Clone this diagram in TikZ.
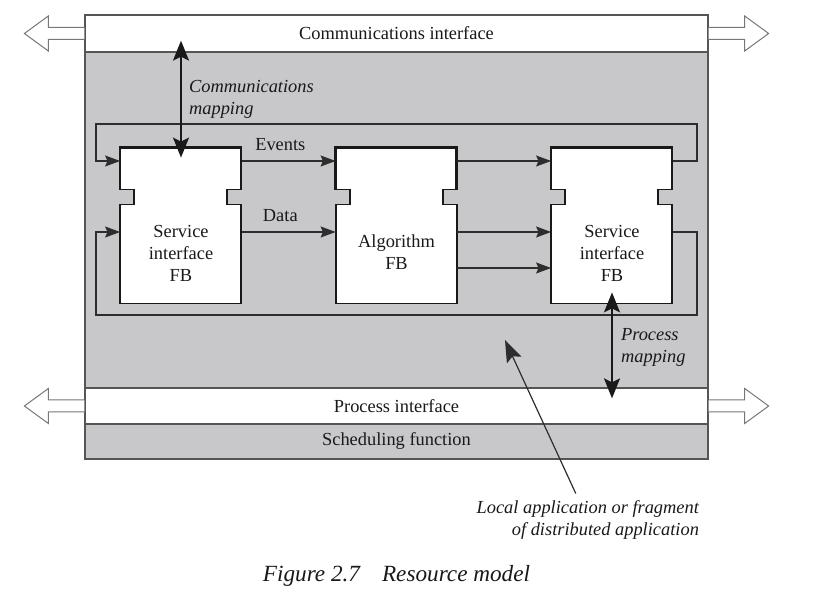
\documentclass[tikz,border=0pt]{standalone}
\usepackage{fontspec}
\setmainfont{Liberation Serif}
\usetikzlibrary{arrows.meta}

\definecolor{resgray}{RGB}{200,200,203}
\definecolor{framecol}{RGB}{85,85,85}
\definecolor{linecol}{RGB}{45,45,45}

\tikzset{
  fbblock/.pic={
    \fill[white] (0,0) -| (121,42) -- (107,42) -- (107,57) -- (121,57) |- (0,156) -- (0,57) -- (14,57) -- (14,42) -- (0,42) -- cycle;
    \draw[fbedge] (0,0) -| (121,42) -- (107,42) -- (107,57) -- (121,57) |- (0,156) -- (0,57) -- (14,57) -- (14,42) -- (0,42) -- cycle;
    \draw[fbhead] (0,42) |- (121,0) -- (121,42);
  },
  bigarrow/.pic={
    \draw[draw=framecol!80,fill=white,line width=0.5pt] (0,-6) -- (-36,-6) -- (-36,-17.5) -- (-60,0) -- (-36,17.5) -- (-36,6) -- (0,6);
  }
}

\begin{document}
\begin{tikzpicture}
        [x=0.5pt,y=-0.5pt,
         every node/.style={font=\fontsize{9.2}{11}\selectfont,text=black!90},
         band/.style={draw=framecol,line width=0.65pt,minimum width=311.5pt,inner sep=0pt},
         fbbox/.style={minimum width=60.5pt,minimum height=78pt,inner sep=0pt},
         fbtext/.style={align=center},
         fbedge/.style={draw=black!90,line width=0.9pt},
         fbhead/.style={draw=black!90,line width=1.3pt},
         flow/.style={draw=linecol,line width=0.6pt,-{Stealth[length=7.5pt,width=5.5pt,inset=1.2pt]}},
         mapping/.style={draw=black!90,line width=1pt,{Stealth[length=10pt,width=8pt,inset=2pt]}-{Stealth[length=10pt,width=8pt,inset=2pt]}},
         pointer/.style={draw=linecol,line width=0.6pt,-{Stealth[length=11pt,width=8pt,inset=2pt]}},
         maplabel/.style={font=\fontsize{9.2}{11}\selectfont\itshape,align=left,anchor=west},
         frame/.style={draw=framecol,line width=0.65pt}]
        \useasboundingbox (0,0) rectangle (819,603);

        % resource
        \node[band,fill=white,minimum height=18.5pt] (comm) at (396.5,33.5) {Communications interface};
        \node[band,fill=resgray,minimum height=168pt] (res) at (396.5,220) {};
        \node[band,fill=white,minimum height=18pt] (proc) at (396.5,406) {Process interface};
        \node[band,fill=resgray,minimum height=17.5pt] (sched) at (396.5,441.5) {Scheduling function};
        \draw[frame] (comm.north west) rectangle (sched.south east);

        \pic at (comm.west) {bigarrow};
        \pic[xscale=-1] at (comm.east) {bigarrow};
        \pic at (proc.west) {bigarrow};
        \pic[xscale=-1] at (proc.east) {bigarrow};

        % function blocks
        \node[fbbox] (svc1) at (181,226) {};
        \node[fbbox] (alg) at (396.5,226) {};
        \node[fbbox] (svc2) at (612,226) {};
        \pic at (svc1.north west) {fbblock};
        \pic at (alg.north west) {fbblock};
        \pic at (svc2.north west) {fbblock};
        \node[fbtext] (svc1-txt) at (181,253) {Service\\interface\\FB};
        \node[fbtext] (alg-txt) at (396.5,252.5) {Algorithm\\FB};
        \node[fbtext] (svc2-txt) at (612,253) {Service\\interface\\FB};

        % event and data rows
        \coordinate (ev) at (0,161);
        \coordinate (dat) at (0,232);
        \coordinate (aux) at (0,268);
        \coordinate (tr) at (697,124);
        \coordinate (tl) at (96,124);
        \coordinate (br) at (697,315);
        \coordinate (bl) at (96,315);

        \draw[flow] (svc1.east |- ev) -- node[pos=.41,above=1.5pt] {Events} (alg.west |- ev);
        \draw[flow] (svc1.east |- dat) -- node[pos=.41,above=1.5pt] {Data} (alg.west |- dat);
        \draw[flow] (alg.east |- ev) -- (svc2.west |- ev);
        \draw[flow] (alg.east |- dat) -- (svc2.west |- dat);
        \draw[flow] (alg.east |- aux) -- (svc2.west |- aux);
        \draw[flow] (svc2.east |- ev) -| (tr) -- (tl) |- (svc1.west |- ev);
        \draw[flow] (svc2.east |- dat) -| (br) -- (bl) |- (svc1.west |- dat);

        % mappings
        \path (comm.south -| svc1.north) ++(0,-12) coordinate (cmtop);
        \path (proc.north -| svc2.south) ++(0,11) coordinate (pmbot);
        \draw[mapping] (cmtop) -- ([yshift=-5pt]svc1.north);
        \draw[mapping] ([yshift=6pt]svc2.south) -- (pmbot);
        \node[maplabel] (cm-lbl) at (182,99) {Communications\\mapping};
        \node[maplabel] (pm-lbl) at (614,347) {Process\\mapping};

        % application
        \node[maplabel,anchor=east,align=right] (local) at (706,520) {Local application or fragment\\of distributed application};
        \coordinate (lapp) at (505,340);
        \draw[pointer] ([xshift=-6pt]local.north) -- (lapp);

        \node[font=\fontsize{11.6}{14}\selectfont\itshape] (caption) at (396.5,576) {Figure 2.7\hspace{11pt}Resource model};
    \end{tikzpicture}
\end{document}
